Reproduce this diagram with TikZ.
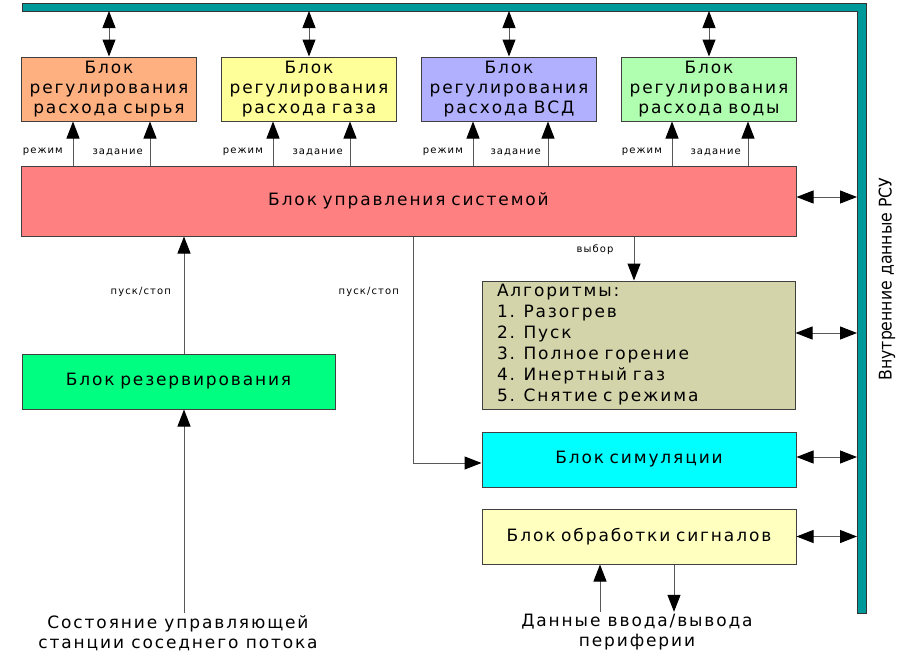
\documentclass[tikz,border=0pt]{standalone}
\usepackage{fontspec}
\setmainfont{DejaVu Sans}[LetterSpace=11]
\newfontfamily\narrowfont{DejaVu Sans Condensed}
\usepackage{tikz}
\usetikzlibrary{arrows.meta,positioning,calc}

\definecolor{busc}{RGB}{0,153,153}
\definecolor{rawc}{RGB}{255,176,128}
\definecolor{gasc}{RGB}{255,255,153}
\definecolor{vsdc}{RGB}{176,176,255}
\definecolor{watc}{RGB}{176,255,176}
\definecolor{ctlc}{RGB}{255,128,128}
\definecolor{algc}{RGB}{212,212,170}
\definecolor{simc}{RGB}{0,255,255}
\definecolor{sigc}{RGB}{255,255,192}
\definecolor{resc}{RGB}{0,255,128}

\begin{document}
\begin{tikzpicture}[x = 1pt, y = -1pt,
  >={Triangle[length=17pt,width=13pt,color=black]},
  blk/.style={draw=black!75, line width=1pt, text width=175pt, minimum height=64pt,
    inner sep=0pt, align=center, font=\fontsize{17}{20}\selectfont},
  ln/.style={draw=black!65, line width=1pt},
  lbl/.style={inner sep=0pt, font=\fontsize{10}{12}\selectfont},
  txt/.style={inner sep=2pt, align=center, font=\fontsize{17}{20}\selectfont}]
\useasboundingbox (0,0) rectangle (900,656);

% bus
\draw[draw=black!80, fill=busc, line width=1pt] (22,3) -- (866,3) -- (866,613) -- (857,613) -- (857,11) -- (22,11) -- cycle;
\coordinate (bt) at (0,11);
\coordinate (br) at (857,0);
\node[font=\narrowfont\fontsize{17.5}{21}\selectfont, rotate=90] (rsu) at (887,279) {Внутренние данные РСУ};

% regulators
\node[blk, fill=rawc] (raw) at (109,89) {Блок\\регулирования\\расхода сырья};
\node[blk, fill=gasc] (gas) at (309,89) {Блок\\регулирования\\расхода газа};
\node[blk, fill=vsdc] (vsd) at (509,89) {Блок\\регулирования\\расхода ВСД};
\node[blk, fill=watc] (wat) at (709,89) {Блок\\регулирования\\расхода воды};

\node[blk, fill=ctlc, text width=775pt, minimum height=70pt] (ctl) at (408.5,201) {Блок управления системой};

\node[blk, fill=algc, text width=283pt, inner xsep=15pt, minimum height=128pt, align=left,
  font=\fontsize{17}{21}\selectfont] (alg) at (638.5,345)
  {Алгоритмы:\\1. Разогрев\\2. Пуск\\3. Полное горение\\4. Инертный газ\\5. Снятие с режима};
\node[blk, fill=simc, text width=314pt, minimum height=55pt] (sim) at (639,459.5) {Блок симуляции};
\node[blk, fill=sigc, text width=314pt, minimum height=55pt] (sig) at (639,536.5) {Блок обработки сигналов};
\node[blk, fill=resc, text width=313pt, minimum height=55pt] (res) at (178.5,381.5) {Блок резервирования};

\node[txt] (st) at (178,633) {Состояние управляющей\\станции соседнего потока};
\node[txt] (io) at (637,632) {Данные ввода/вывода\\периферии};

% bus links
\draw[<->, ln] (raw.north) -- (raw.north |- bt);
\draw[<->, ln] (gas.north) -- (gas.north |- bt);
\draw[<->, ln] (vsd.north) -- (vsd.north |- bt);
\draw[<->, ln] (wat.north) -- (wat.north |- bt);

\draw[<->, ln] ([yshift=4pt]ctl.east) -- ([yshift=4pt]ctl.east -| br);
\draw[<->, ln] ([yshift=12pt]alg.east) -- ([yshift=12pt]alg.east -| br);
\draw[<->, ln] ([yshift=2.5pt]sim.east) -- ([yshift=2.5pt]sim.east -| br);
\draw[<->, ln] (sig.east) -- (sig.east -| br);

% mode / setpoint
\draw[->, ln] ([xshift=-36pt]raw.south |- ctl.north) -- ([xshift=-36pt]raw.south);
\draw[->, ln] ([xshift=41pt]raw.south |- ctl.north) -- ([xshift=41pt]raw.south);
\draw[->, ln] ([xshift=-36pt]gas.south |- ctl.north) -- ([xshift=-36pt]gas.south);
\draw[->, ln] ([xshift=41pt]gas.south |- ctl.north) -- ([xshift=41pt]gas.south);
\draw[->, ln] ([xshift=-36pt]vsd.south |- ctl.north) -- ([xshift=-36pt]vsd.south);
\draw[->, ln] ([xshift=39pt]vsd.south |- ctl.north) -- ([xshift=39pt]vsd.south);
\draw[->, ln] ([xshift=-37pt]wat.south |- ctl.north) -- ([xshift=-37pt]wat.south);
\draw[->, ln] ([xshift=39pt]wat.south |- ctl.north) -- ([xshift=39pt]wat.south);

\node[lbl, anchor=east] (m1) at (63,152) {режим};
\node[lbl, anchor=east] (z1) at (143,152) {задание};
\node[lbl, anchor=east] (m2) at (263,152) {режим};
\node[lbl, anchor=east] (z2) at (343,152) {задание};
\node[lbl, anchor=east] (m3) at (463,152) {режим};
\node[lbl, anchor=east] (z3) at (541,152) {задание};
\node[lbl, anchor=east] (m4) at (662,152) {режим};
\node[lbl, anchor=east] (z4) at (741,152) {задание};

% control
\draw[->, ln] ([xshift=-4.5pt]alg.north |- ctl.south) -- ([xshift=-4.5pt]alg.north);
\draw[->, ln] ([xshift=4.5pt]ctl.south) |- ([yshift=-3.5pt]sim.west);
\draw[->, ln] ([xshift=5.5pt]res.north) -- ([xshift=5.5pt]res.north |- ctl.south);
\draw[->, ln] ([xshift=5.5pt]res.south |- st.north) -- ([xshift=5.5pt]res.south);
\draw[->, ln] ([xshift=-39pt]sig.south |- io.north) -- ([xshift=-39pt]sig.south);
\draw[->, ln] ([xshift=35pt]sig.south) -- ([xshift=35pt]sig.south |- io.north);

\node[lbl] (sel) at (595,250) {выбор};
\node[lbl, anchor=east] (p1) at (171,292) {пуск/стоп};
\node[lbl, anchor=east] (p2) at (399,292) {пуск/стоп};

\end{tikzpicture}
\end{document}
